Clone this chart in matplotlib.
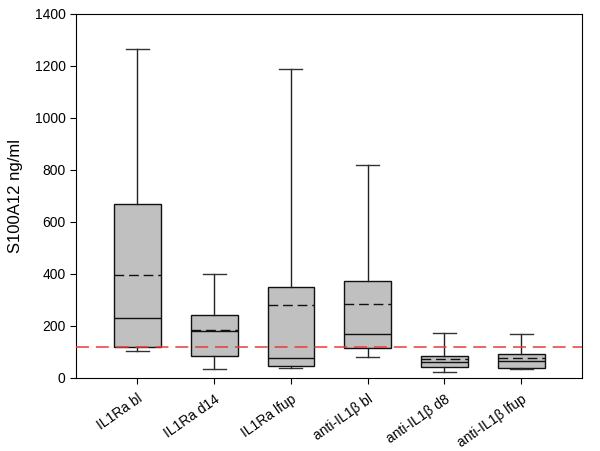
import matplotlib
matplotlib.use("Agg")
import matplotlib.pyplot as plt

plt.rcParams["font.family"] = ["Liberation Sans", "DejaVu Sans"]

GROUPS = ["IL1Ra bl", "IL1Ra d14", "IL1Ra lfup", "anti-IL1\u03b2 bl", "anti-IL1\u03b2 d8", "anti-IL1\u03b2 lfup"]
WHISKER_LOW = [102, 36, 40, 82, 21, 33]
Q1 = [120, 83, 46, 115, 43, 40]
MEDIAN = [230, 182, 77, 170, 60, 64]
MEAN = [397, 183, 280, 283, 72, 76]
Q3 = [670, 241, 350, 371, 83, 91]
WHISKER_HIGH = [1266, 398, 1188, 821, 174, 168]
THRESHOLD = 120


def build_stats():
    stats = []
    for i, name in enumerate(GROUPS):
        stats.append({
            "label": name,
            "whislo": WHISKER_LOW[i],
            "q1": Q1[i],
            "med": MEDIAN[i],
            "mean": MEAN[i],
            "q3": Q3[i],
            "whishi": WHISKER_HIGH[i],
            "fliers": [],
        })
    return stats


def main():
    fig = plt.figure(figsize=(6.0, 4.51), dpi=100)
    ax = fig.add_axes([0.1267, 0.162, 0.843, 0.807])

    ax.bxp(
        build_stats(),
        positions=range(1, len(GROUPS) + 1),
        widths=0.61,
        patch_artist=True,
        showmeans=True,
        meanline=True,
        boxprops=dict(facecolor="#c0c0c0", edgecolor="#111111", linewidth=1.0),
        medianprops=dict(color="#111111", linewidth=1.0),
        meanprops=dict(color="#111111", linewidth=1.0, linestyle=(0, (7, 3.5))),
        whiskerprops=dict(color="#222222", linewidth=1.0),
        capprops=dict(color="#333333", linewidth=1.0),
        capwidths=0.3,
    )

    ax.axhline(THRESHOLD, color="#e83c3c", linewidth=1.1, linestyle=(0, (8.5, 4.5)), zorder=3)

    ax.set_xlim(0.2, 6.79)
    ax.set_ylim(0, 1400)
    ax.set_yticks(range(0, 1401, 200))
    ax.set_xticks(range(1, len(GROUPS) + 1))
    ax.set_xticklabels(GROUPS, rotation=35, ha="right", rotation_mode="anchor", fontsize=10)
    ax.tick_params(axis="y", labelsize=10, direction="out", length=4)
    ax.tick_params(axis="x", direction="out", length=4, pad=6)
    ax.set_ylabel("S100A12 ng/ml", fontsize=12, labelpad=8)

    fig.savefig("out.png", dpi=100)
    plt.close(fig)


if __name__ == "__main__":
    main()
